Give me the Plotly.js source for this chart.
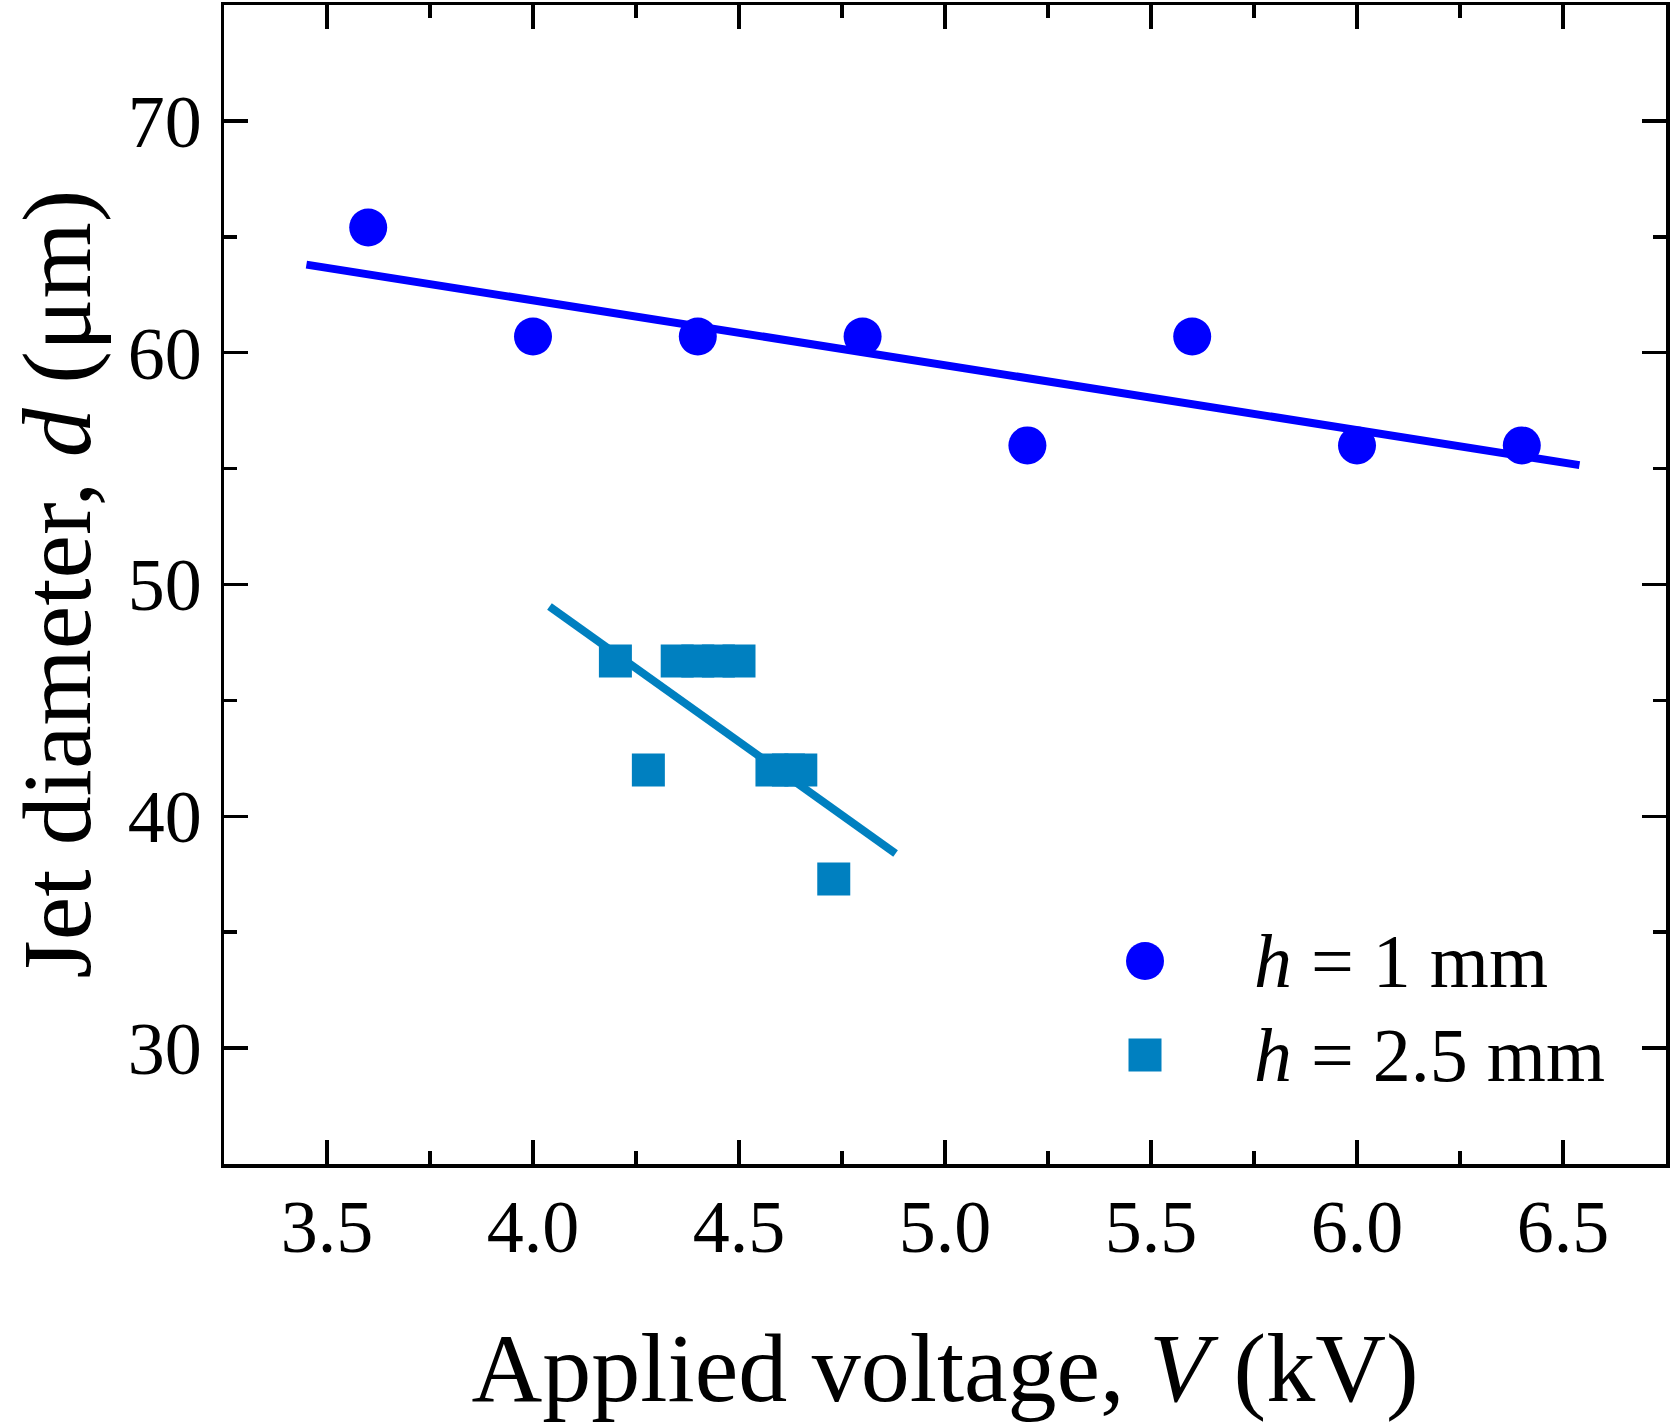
<!DOCTYPE html>
<html>
<head>
<meta charset="utf-8">
<script src="https://cdn.plot.ly/plotly-3.0.1.min.js"></script>
<style>
  html, body { margin: 0; padding: 0; background: #fff; }
  #myDiv { width: 1675px; height: 1422px; }
</style>
</head>
<body>
<div id="myDiv"></div>
<script>
// h = 1 mm
let voltage1 = [3.6, 4.0, 4.4, 4.8, 5.2, 5.6, 6.0, 6.4];
let diameter1 = [65.4, 60.7, 60.7, 60.7, 56.0, 60.7, 56.0, 56.0];
let fitX1 = [3.45, 6.54];
let fitY1 = [63.8, 55.15];

// h = 2.5 mm
let voltage2 = [4.2, 4.28, 4.35, 4.4, 4.45, 4.5, 4.58, 4.62, 4.65, 4.73];
let diameter2 = [46.7, 42.0, 46.7, 46.7, 46.7, 46.7, 42.0, 42.0, 42.0, 37.3];
let fitX2 = [4.04, 4.88];
let fitY2 = [49.05, 38.4];

let legendNames = ["<i>h</i> = 1 mm", "<i>h</i> = 2.5 mm"];

let xTicks = [3.5, 4.0, 4.5, 5.0, 5.5, 6.0, 6.5];
let yTicks = [30, 40, 50, 60, 70];

let blue = "#0000ff";
let teal = "#0080c0";
let font = "Liberation Serif, Times New Roman, serif";

function drawGraph() {
  let fit1 = {
    x: fitX1, y: fitY1,
    mode: "lines", type: "scatter",
    line: { color: blue, width: 8 },
    showlegend: false, hoverinfo: "skip"
  };
  let fit2 = {
    x: fitX2, y: fitY2,
    mode: "lines", type: "scatter",
    line: { color: teal, width: 8 },
    showlegend: false, hoverinfo: "skip"
  };
  let points1 = {
    x: voltage1, y: diameter1,
    mode: "markers", type: "scatter",
    name: legendNames[0],
    marker: { symbol: "circle", size: 38, color: blue },
    showlegend: false
  };
  let points2 = {
    x: voltage2, y: diameter2,
    mode: "markers", type: "scatter",
    name: legendNames[1],
    marker: { symbol: "square", size: 33, color: teal },
    showlegend: false
  };

  let axisCommon = {
    showline: true, linecolor: "#000", linewidth: 3.5,
    mirror: "ticks",
    ticks: "inside", ticklen: 24, tickwidth: 3.5, tickcolor: "#000",
    showgrid: false, zeroline: false,
    tickfont: { family: font, size: 74, color: "#000" }
  };

  // legend drawn by hand: plotly caps legend symbols at 16px
  let legendShapes = [
    {
      type: "circle", xref: "paper", yref: "paper",
      xsizemode: "pixel", ysizemode: "pixel",
      xanchor: 0.6387, yanchor: 0.1752,
      x0: -19, x1: 19, y0: -19, y1: 19,
      fillcolor: blue, line: { width: 0 }
    },
    {
      type: "rect", xref: "paper", yref: "paper",
      xsizemode: "pixel", ysizemode: "pixel",
      xanchor: 0.6387, yanchor: 0.094,
      x0: -16.5, x1: 16.5, y0: -16.5, y1: 16.5,
      fillcolor: teal, line: { width: 0 }
    }
  ];
  let notes = [
    { text: legendNames[0], y: 0.1752 },
    { text: legendNames[1], y: 0.094 }
  ].map(t => ({
    text: t.text, xref: "paper", yref: "paper",
    x: 0.7129, y: t.y, xanchor: "left", yanchor: "middle",
    showarrow: false,
    font: { family: font, size: 76, color: "#000" }
  }));

  // y title as an annotation so it can sit where the original has it
  notes.push({
    text: "Jet diameter, <i>d</i> (μm)",
    xref: "paper", yref: "paper",
    x: -0.1165, y: 0.5, xanchor: "center", yanchor: "middle",
    textangle: -90, showarrow: false,
    font: { family: font, size: 98, color: "#000" }
  });

  let layout = {
    width: 1675, height: 1422,
    margin: { l: 224, r: 9, t: 5, b: 258 },
    paper_bgcolor: "#fff", plot_bgcolor: "#fff",
    font: { family: font, color: "#000" },
    showlegend: false,
    xaxis: Object.assign({}, axisCommon, {
      range: [3.25, 6.75],
      tickvals: xTicks,
      ticktext: xTicks.map(v => v.toFixed(1)),
      ticklabelstandoff: -4,
      minor: { ticks: "inside", ticklen: 13, tickwidth: 3.5, tickcolor: "#000", dtick: 0.25, tick0: 3.25 },
      title: {
        text: "Applied voltage, <i>V</i> (kV)",
        font: { family: font, size: 98, color: "#000" }
      }
    }),
    yaxis: Object.assign({}, axisCommon, {
      range: [25, 75],
      tickvals: yTicks,
      ticklabelstandoff: 4,
      minor: { ticks: "inside", ticklen: 13, tickwidth: 3.5, tickcolor: "#000", dtick: 5, tick0: 25 }
    }),
    shapes: legendShapes,
    annotations: notes
  };

  Plotly.newPlot("myDiv", [points1, points2, fit1, fit2], layout, { staticPlot: true });
}

drawGraph();
</script>
</body>
</html>
